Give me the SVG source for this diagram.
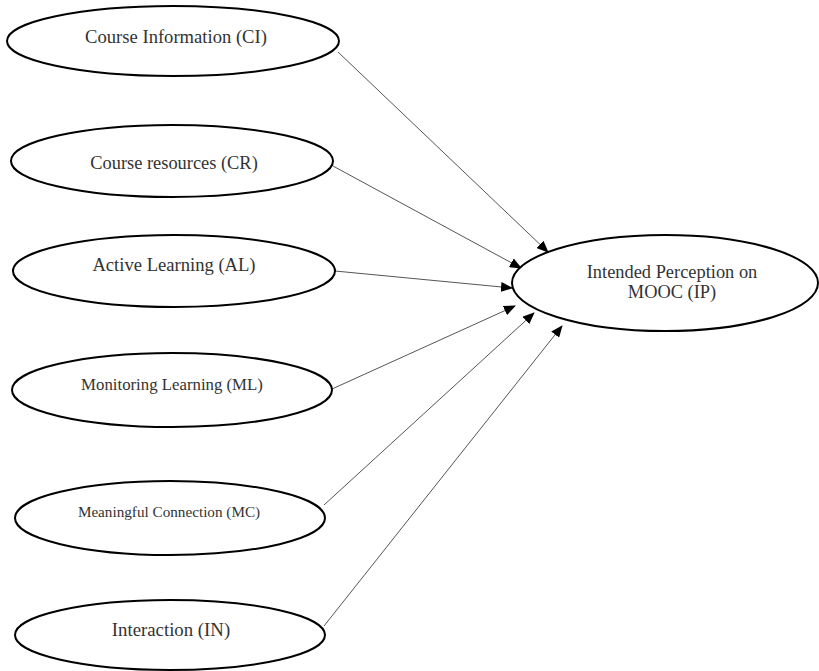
<svg xmlns="http://www.w3.org/2000/svg" width="819" height="671" viewBox="0 0 819 671">
<style>
.n ellipse{fill:#fff;stroke:#000;stroke-width:2}
.n text{font-family:"Liberation Serif","Times New Roman",serif;fill:#333;text-anchor:middle}
.c line{stroke:#555;stroke-width:1;marker-end:url(#ah)}
</style>
<defs>
<marker id="ah" markerWidth="12" markerHeight="10" refX="11" refY="5" orient="auto" markerUnits="userSpaceOnUse">
<path d="M0,0 L12,5 L0,10 Z" fill="#000"/>
</marker>
</defs>
<rect width="819" height="671" fill="#fff"/>
<g class="c">
<line x1="338" y1="52" x2="548" y2="252"/>
<line x1="333" y1="166" x2="521" y2="268"/>
<line x1="335" y1="271" x2="512" y2="288"/>
<line x1="332" y1="389" x2="515" y2="306"/>
<line x1="324" y1="505" x2="534" y2="313"/>
<line x1="324" y1="626" x2="562" y2="326"/>
</g>
<g id="CI" class="n"><ellipse cx="173" cy="41" rx="166" ry="35"/><text x="176" y="43" font-size="18.6">Course Information (CI)</text></g>
<g id="CR" class="n"><ellipse cx="172" cy="161" rx="161" ry="36"/><text x="174" y="169" font-size="18.4">Course resources (CR)</text></g>
<g id="AL" class="n"><ellipse cx="174" cy="271" rx="161" ry="36"/><text x="174" y="271" font-size="18.6">Active Learning (AL)</text></g>
<g id="ML" class="n"><ellipse cx="172" cy="390" rx="160" ry="37"/><text x="172" y="390" font-size="16.8">Monitoring Learning (ML)</text></g>
<g id="MC" class="n"><ellipse cx="170" cy="518" rx="155" ry="37"/><text x="169" y="517" font-size="15.2">Meaningful Connection (MC)</text></g>
<g id="IN" class="n"><ellipse cx="170" cy="635" rx="155" ry="35"/><text x="171" y="636" font-size="18.8">Interaction (IN)</text></g>
<g id="IP" class="n"><ellipse cx="665" cy="283" rx="153" ry="48"/><text x="672" y="278" font-size="18.4">Intended Perception on</text><text x="672" y="298" font-size="18.4">MOOC (IP)</text></g>
</svg>
